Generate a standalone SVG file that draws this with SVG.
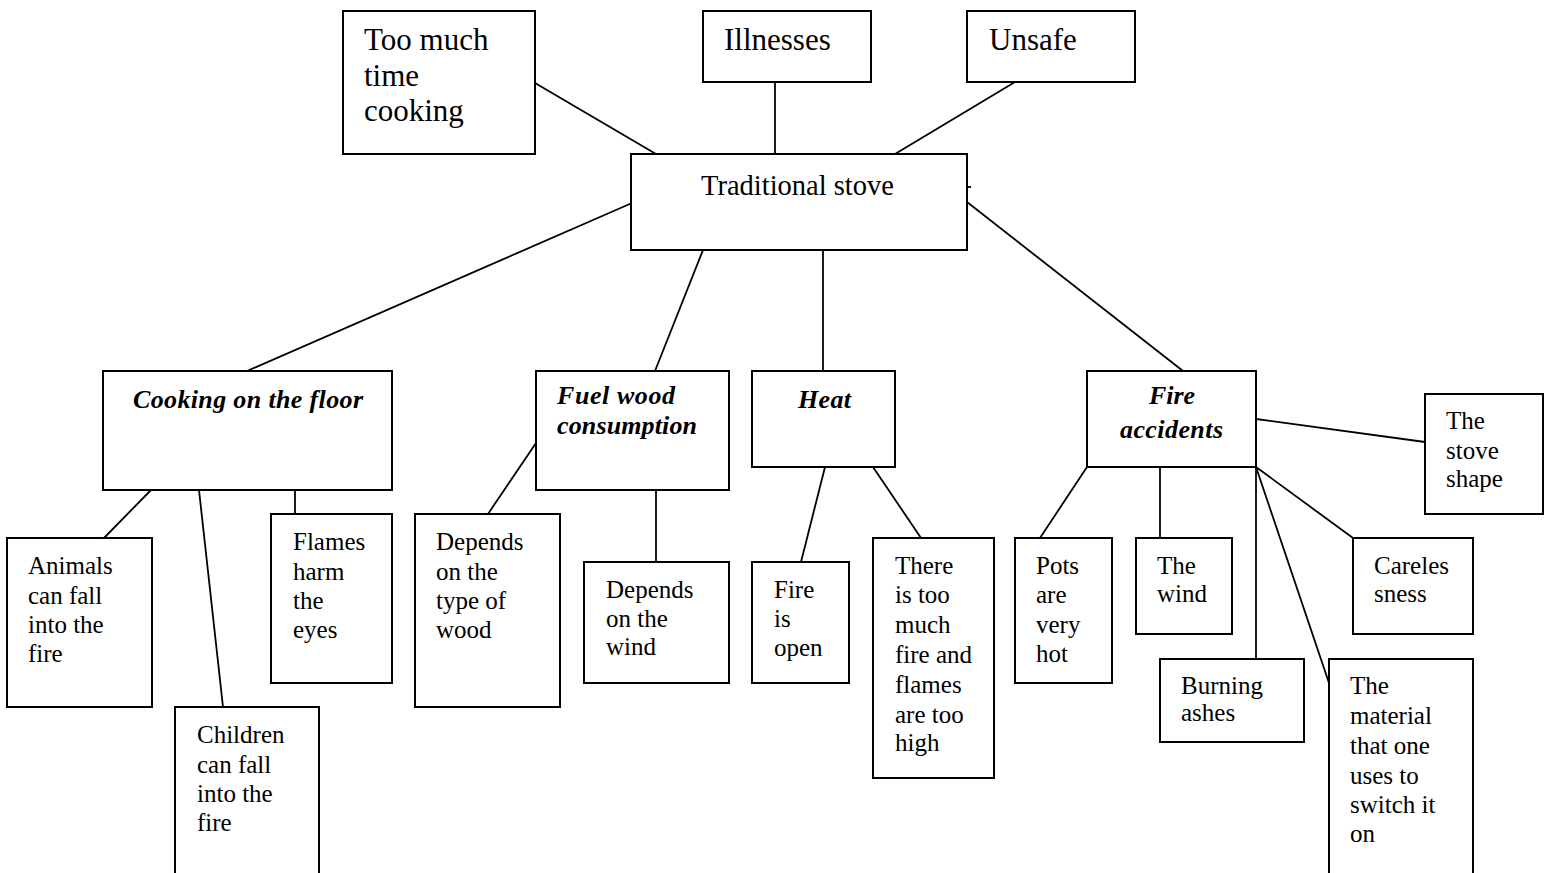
<svg xmlns="http://www.w3.org/2000/svg" width="1546" height="873" viewBox="0 0 1546 873" font-family="'Liberation Serif', 'Times New Roman', Times, 'DejaVu Serif', serif">
<style>
rect{fill:#fff;stroke:#000;stroke-width:2}
.c line{stroke:#000;stroke-width:1.8}
text{font-family:'Liberation Serif', 'Times New Roman', Times, 'DejaVu Serif', serif;fill:#000}
.t{font-size:31px}
.m{font-size:28.5px}
.h{font-size:26px;font-weight:bold;font-style:italic}
.l{font-size:25px}
</style>
<rect x="0" y="0" width="1546" height="873" style="stroke:none"/>
<g class="c" id="connectors">
<line x1="535" y1="83" x2="656" y2="154"/>
<line x1="775" y1="82" x2="775" y2="154"/>
<line x1="1015" y1="82" x2="895" y2="154"/>
<line x1="967" y1="187" x2="971" y2="187"/>
<line x1="632" y1="203" x2="247" y2="371"/>
<line x1="703" y1="250" x2="655" y2="371"/>
<line x1="823" y1="250" x2="823" y2="371"/>
<line x1="967" y1="202" x2="1183" y2="371"/>
<line x1="151" y1="490" x2="104" y2="538"/>
<line x1="199" y1="490" x2="223" y2="707"/>
<line x1="295" y1="490" x2="295" y2="514"/>
<line x1="536" y1="443" x2="488" y2="514"/>
<line x1="656" y1="490" x2="656" y2="562"/>
<line x1="825" y1="467" x2="801" y2="562"/>
<line x1="873" y1="467" x2="921" y2="538"/>
<line x1="1087" y1="467" x2="1040" y2="538"/>
<line x1="1160" y1="467" x2="1160" y2="538"/>
<line x1="1256" y1="467" x2="1256" y2="659"/>
<line x1="1256" y1="467" x2="1353" y2="538"/>
<line x1="1256" y1="467" x2="1329" y2="683"/>
<line x1="1256" y1="419" x2="1425" y2="442"/>
</g>
<g id="too-much-time"><rect x="343" y="11" width="192" height="143"/><text class="t" x="364" y="50">Too much</text><text class="t" x="364" y="86">time</text><text class="t" x="364" y="121">cooking</text></g>
<g id="illnesses"><rect x="703" y="11" width="168" height="71"/><text class="t" x="724" y="50">Illnesses</text></g>
<g id="unsafe"><rect x="967" y="11" width="168" height="71"/><text class="t" x="989" y="50">Unsafe</text></g>
<g id="traditional-stove"><rect x="631" y="154" width="336" height="96"/><text class="m" x="701" y="195">Traditional stove</text></g>
<g id="cooking-floor"><rect x="103" y="371" width="289" height="119"/><text class="h" x="133" y="408" textLength="230">Cooking on the floor</text></g>
<g id="fuel-wood"><rect x="536" y="371" width="193" height="119"/><text class="h" x="557" y="404" textLength="118">Fuel wood</text><text class="h" x="557" y="434" textLength="140">consumption</text></g>
<g id="heat"><rect x="752" y="371" width="143" height="96"/><text class="h" x="798" y="408" textLength="53">Heat</text></g>
<g id="fire-accidents"><rect x="1087" y="371" width="169" height="96"/><text class="h" x="1149" y="404" textLength="46">Fire</text><text class="h" x="1120" y="438" textLength="103">accidents</text></g>
<g id="stove-shape"><rect x="1425" y="394" width="118" height="120"/><text class="l" x="1446" y="429">The</text><text class="l" x="1446" y="459">stove</text><text class="l" x="1446" y="487">shape</text></g>
<g id="animals"><rect x="7" y="538" width="145" height="169"/><text class="l" x="28" y="574">Animals</text><text class="l" x="28" y="604">can fall</text><text class="l" x="28" y="633">into the</text><text class="l" x="28" y="662">fire</text></g>
<g id="children"><rect x="175" y="707" width="144" height="200"/><text class="l" x="197" y="743">Children</text><text class="l" x="197" y="773">can fall</text><text class="l" x="197" y="802">into the</text><text class="l" x="197" y="831">fire</text></g>
<g id="flames-eyes"><rect x="271" y="514" width="121" height="169"/><text class="l" x="293" y="550">Flames</text><text class="l" x="293" y="580">harm</text><text class="l" x="293" y="609">the</text><text class="l" x="293" y="638">eyes</text></g>
<g id="type-of-wood"><rect x="415" y="514" width="145" height="193"/><text class="l" x="436" y="550">Depends</text><text class="l" x="436" y="580">on the</text><text class="l" x="436" y="609">type of</text><text class="l" x="436" y="638">wood</text></g>
<g id="depends-wind"><rect x="584" y="562" width="145" height="121"/><text class="l" x="606" y="598">Depends</text><text class="l" x="606" y="627">on the</text><text class="l" x="606" y="655">wind</text></g>
<g id="fire-open"><rect x="752" y="562" width="97" height="121"/><text class="l" x="774" y="598">Fire</text><text class="l" x="774" y="627">is</text><text class="l" x="774" y="656">open</text></g>
<g id="too-much-fire"><rect x="873" y="538" width="121" height="240"/><text class="l" x="895" y="574">There</text><text class="l" x="895" y="603">is too</text><text class="l" x="895" y="633">much</text><text class="l" x="895" y="663">fire and</text><text class="l" x="895" y="693">flames</text><text class="l" x="895" y="723">are too</text><text class="l" x="895" y="751">high</text></g>
<g id="pots-hot"><rect x="1015" y="538" width="97" height="145"/><text class="l" x="1036" y="574">Pots</text><text class="l" x="1036" y="603">are</text><text class="l" x="1036" y="633">very</text><text class="l" x="1036" y="662">hot</text></g>
<g id="the-wind"><rect x="1136" y="538" width="96" height="96"/><text class="l" x="1157" y="574">The</text><text class="l" x="1157" y="602">wind</text></g>
<g id="burning-ashes"><rect x="1160" y="659" width="144" height="83"/><text class="l" x="1181" y="694">Burning</text><text class="l" x="1181" y="721">ashes</text></g>
<g id="carelessness"><rect x="1353" y="538" width="120" height="96"/><text class="l" x="1374" y="574">Careles</text><text class="l" x="1374" y="602">sness</text></g>
<g id="material"><rect x="1329" y="659" width="144" height="250"/><text class="l" x="1350" y="694">The</text><text class="l" x="1350" y="724">material</text><text class="l" x="1350" y="754">that one</text><text class="l" x="1350" y="784">uses to</text><text class="l" x="1350" y="813">switch it</text><text class="l" x="1350" y="842">on</text></g>
</svg>
